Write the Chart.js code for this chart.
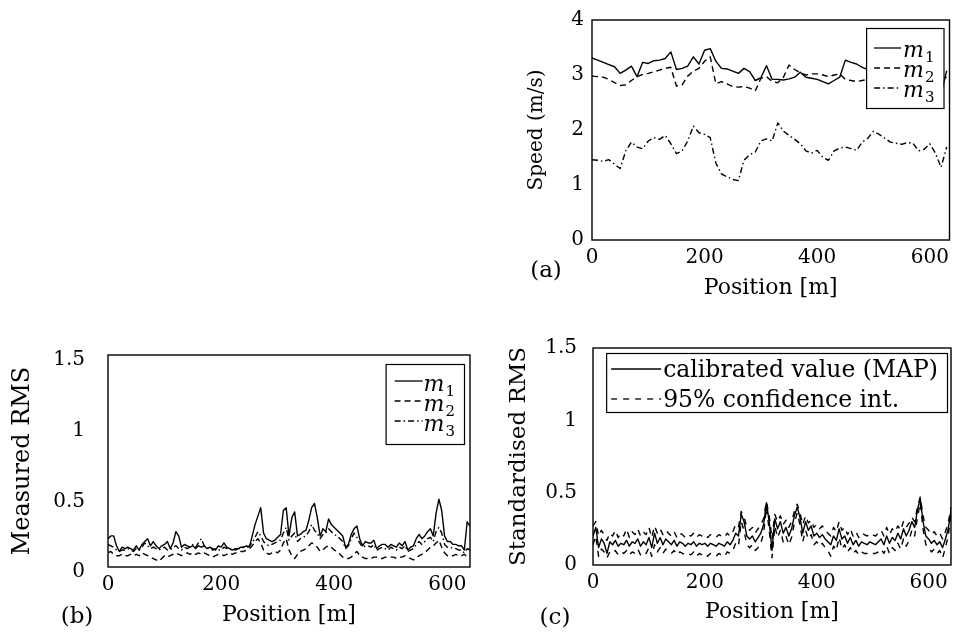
<!DOCTYPE html>
<html>
<head>
<meta charset="utf-8">
<script src="https://cdn.jsdelivr.net/npm/chart.js@4.4.1/dist/chart.umd.min.js"></script>
<style>
  body { margin: 0; background: #fff; }
  canvas { position: absolute; }
</style>
</head>
<body>
<canvas id="chartA" width="475" height="320" style="left:480px;top:0px"></canvas>
<canvas id="chartB" width="480" height="317" style="left:0px;top:320px"></canvas>
<canvas id="chartC" width="475" height="317" style="left:480px;top:320px"></canvas>
<script>
// ---- datos ----
const positionTicks = [0, 200, 400, 600];
const speedTicks = [0, 1, 2, 3, 4];
const rmsTicks = [0, 0.5, 1, 1.5];

// (a) velocidad, cada 10 m
const positionA = [0,10,20,30,40,50,60,70,80,90,100,110,120,130,140,150,160,170,180,190,
  200,210,220,230,240,250,260,270,280,290,300,310,320,330,340,350,360,370,380,390,
  400,410,420,430,440,450,460,470,480,490,500,510,520,530,540,550,560,570,580,590,
  600,610,620,630];
const speedM1 = [3.31,3.27,3.23,3.19,3.15,3.03,3.09,3.16,2.97,3.23,3.21,3.26,3.27,3.30,3.42,3.10,3.12,3.16,3.33,3.20,
  3.45,3.48,3.25,3.12,3.11,3.07,3.03,3.12,3.06,2.90,2.95,3.17,2.92,2.92,2.91,2.93,2.96,3.05,2.96,2.94,
  2.92,2.88,2.84,2.90,2.96,3.27,3.23,3.20,3.14,3.10,3.05,3.08,3.02,3.00,3.05,2.98,3.02,3.06,3.00,2.95,
  3.00,3.04,2.65,3.08];
const speedM2 = [2.98,2.97,2.96,2.92,2.86,2.81,2.82,2.90,2.97,3.01,3.03,3.06,3.09,3.12,3.14,2.80,2.82,2.98,3.07,3.12,
  3.25,3.33,2.84,2.88,2.84,2.79,2.78,2.79,2.76,2.71,2.94,2.97,2.88,2.86,2.96,3.18,3.10,3.04,3.00,3.02,
  3.02,3.00,2.97,3.00,3.02,2.92,2.90,2.88,2.90,2.92,2.95,2.93,2.90,2.94,2.96,2.92,2.90,2.94,2.97,2.93,
  2.90,2.95,2.92,2.96];
const speedM3 = [1.46,1.45,1.43,1.46,1.38,1.30,1.62,1.78,1.69,1.66,1.80,1.86,1.83,1.90,1.75,1.57,1.62,1.80,2.07,1.95,
  1.92,1.86,1.40,1.20,1.15,1.10,1.08,1.45,1.55,1.60,1.80,1.84,1.80,2.13,1.98,1.90,1.83,1.75,1.62,1.58,
  1.63,1.50,1.45,1.62,1.67,1.69,1.66,1.63,1.78,1.85,1.98,1.92,1.85,1.78,1.76,1.74,1.77,1.76,1.62,1.65,
  1.75,1.58,1.32,1.69];

// (b) y (c) RMS, cada 5 m
const positionRms = [0,5,10,15,20,25,30,35,40,45,50,55,60,65,70,75,80,85,90,95,
  100,105,110,115,120,125,130,135,140,145,150,155,160,165,170,175,180,185,190,195,
  200,205,210,215,220,225,230,235,240,245,250,255,260,265,270,275,280,285,290,295,
  300,305,310,315,320,325,330,335,340,345,350,355,360,365,370,375,380,385,390,395,
  400,405,410,415,420,425,430,435,440,445,450,455,460,465,470,475,480,485,490,495,
  500,505,510,515,520,525,530,535,540,545,550,555,560,565,570,575,580,585,590,595,
  600,605,610,615,620,625,630,635,640];
const rmsM1 = [0.20,0.22,0.22,0.15,0.11,0.14,0.13,0.14,0.13,0.12,
  0.15,0.12,0.16,0.18,0.20,0.15,0.18,0.15,0.13,0.15,
  0.16,0.18,0.13,0.17,0.25,0.22,0.14,0.16,0.15,0.14,
  0.15,0.13,0.15,0.14,0.15,0.13,0.14,0.13,0.12,0.15,
  0.14,0.17,0.14,0.13,0.12,0.13,0.13,0.14,0.14,0.15,
  0.14,0.22,0.30,0.36,0.42,0.24,0.20,0.19,0.18,0.19,
  0.21,0.23,0.40,0.42,0.22,0.35,0.39,0.22,0.23,0.25,
  0.26,0.33,0.42,0.45,0.35,0.22,0.27,0.25,0.34,0.30,
  0.28,0.26,0.24,0.22,0.14,0.16,0.23,0.27,0.29,0.20,
  0.15,0.18,0.17,0.17,0.19,0.13,0.15,0.16,0.16,0.14,
  0.16,0.15,0.14,0.17,0.15,0.18,0.12,0.14,0.15,0.20,
  0.23,0.20,0.22,0.25,0.27,0.22,0.38,0.48,0.40,0.22,
  0.18,0.18,0.16,0.16,0.15,0.15,0.12,0.32,0.29];
const rmsM2 = [0.10,0.11,0.09,0.08,0.08,0.09,0.08,0.08,0.09,0.08,
  0.09,0.08,0.10,0.09,0.08,0.07,0.06,0.05,0.04,0.06,
  0.08,0.07,0.08,0.09,0.10,0.09,0.08,0.09,0.10,0.09,
  0.10,0.09,0.10,0.09,0.10,0.09,0.08,0.07,0.08,0.09,
  0.09,0.08,0.09,0.10,0.09,0.10,0.10,0.11,0.11,0.12,
  0.13,0.15,0.18,0.20,0.17,0.12,0.10,0.09,0.10,0.11,
  0.10,0.12,0.17,0.20,0.12,0.08,0.06,0.09,0.11,0.12,
  0.13,0.15,0.17,0.16,0.14,0.11,0.12,0.14,0.15,0.14,
  0.12,0.11,0.09,0.07,0.06,0.06,0.07,0.09,0.11,0.08,
  0.07,0.06,0.06,0.06,0.07,0.07,0.06,0.06,0.07,0.07,
  0.07,0.07,0.06,0.07,0.07,0.08,0.07,0.06,0.05,0.06,
  0.08,0.09,0.10,0.12,0.14,0.15,0.17,0.19,0.14,0.10,
  0.08,0.08,0.08,0.09,0.08,0.08,0.09,0.07,0.08];
const rmsM3 = [0.16,0.15,0.14,0.12,0.11,0.12,0.12,0.13,0.12,0.11,
  0.13,0.12,0.14,0.17,0.15,0.13,0.14,0.13,0.12,0.13,
  0.14,0.12,0.12,0.14,0.15,0.13,0.12,0.14,0.13,0.14,
  0.16,0.14,0.17,0.20,0.15,0.13,0.14,0.12,0.13,0.12,
  0.12,0.14,0.13,0.12,0.13,0.12,0.13,0.13,0.14,0.14,
  0.15,0.17,0.21,0.25,0.22,0.18,0.16,0.15,0.16,0.17,
  0.18,0.19,0.24,0.28,0.19,0.22,0.24,0.18,0.20,0.21,
  0.22,0.25,0.30,0.26,0.24,0.20,0.23,0.24,0.27,0.25,
  0.23,0.22,0.20,0.18,0.13,0.15,0.20,0.24,0.21,0.17,
  0.14,0.15,0.15,0.14,0.16,0.12,0.13,0.14,0.13,0.12,
  0.14,0.13,0.12,0.14,0.13,0.15,0.11,0.12,0.13,0.16,
  0.18,0.16,0.18,0.20,0.21,0.18,0.25,0.28,0.24,0.16,
  0.14,0.14,0.13,0.13,0.12,0.12,0.10,0.13,0.12];
const stdMap = [0.20,0.26,0.12,0.18,0.15,0.08,0.16,0.14,0.17,0.13,
  0.15,0.14,0.17,0.13,0.16,0.15,0.18,0.13,0.16,0.14,
  0.19,0.12,0.22,0.15,0.19,0.14,0.18,0.16,0.14,0.17,
  0.13,0.16,0.15,0.13,0.15,0.14,0.16,0.13,0.15,0.14,
  0.15,0.13,0.15,0.14,0.13,0.15,0.14,0.13,0.16,0.14,
  0.17,0.22,0.20,0.35,0.30,0.20,0.18,0.20,0.16,0.19,
  0.22,0.28,0.43,0.30,0.10,0.32,0.25,0.30,0.22,0.26,
  0.20,0.25,0.34,0.40,0.33,0.22,0.30,0.24,0.27,0.20,
  0.22,0.19,0.21,0.18,0.16,0.14,0.20,0.17,0.25,0.18,
  0.20,0.15,0.19,0.14,0.17,0.13,0.16,0.15,0.14,0.16,
  0.15,0.14,0.16,0.18,0.14,0.20,0.15,0.19,0.17,0.22,
  0.18,0.25,0.20,0.24,0.30,0.26,0.38,0.46,0.30,0.20,
  0.18,0.15,0.17,0.14,0.16,0.12,0.18,0.25,0.38];
const stdUpper = [0.27,0.30,0.20,0.24,0.21,0.17,0.22,0.20,0.24,0.19,
  0.22,0.20,0.25,0.19,0.23,0.21,0.25,0.20,0.23,0.21,
  0.26,0.19,0.27,0.22,0.25,0.21,0.24,0.22,0.20,0.23,
  0.19,0.22,0.21,0.19,0.21,0.20,0.22,0.19,0.21,0.20,
  0.21,0.19,0.21,0.20,0.19,0.21,0.20,0.19,0.22,0.20,
  0.23,0.28,0.26,0.37,0.33,0.26,0.24,0.26,0.22,0.25,
  0.28,0.32,0.44,0.34,0.18,0.35,0.30,0.34,0.28,0.31,
  0.26,0.30,0.37,0.42,0.36,0.28,0.34,0.29,0.31,0.26,
  0.28,0.25,0.27,0.24,0.22,0.20,0.26,0.23,0.30,0.24,
  0.26,0.21,0.25,0.20,0.23,0.19,0.22,0.21,0.20,0.22,
  0.21,0.20,0.22,0.24,0.20,0.26,0.21,0.25,0.23,0.27,
  0.24,0.30,0.26,0.29,0.33,0.30,0.40,0.47,0.34,0.26,
  0.24,0.21,0.23,0.20,0.22,0.18,0.23,0.29,0.40];
const stdLower = [0.14,0.20,0.06,0.11,0.09,0.05,0.09,0.08,0.10,0.07,
  0.09,0.08,0.10,0.07,0.09,0.08,0.11,0.07,0.09,0.08,
  0.12,0.06,0.14,0.09,0.12,0.08,0.11,0.09,0.08,0.10,
  0.07,0.09,0.08,0.07,0.08,0.07,0.09,0.06,0.08,0.07,
  0.08,0.06,0.08,0.07,0.06,0.08,0.07,0.06,0.09,0.08,
  0.10,0.15,0.13,0.30,0.24,0.14,0.12,0.14,0.10,0.12,
  0.15,0.22,0.40,0.24,0.05,0.27,0.19,0.24,0.16,0.20,
  0.14,0.19,0.29,0.36,0.28,0.16,0.24,0.18,0.21,0.14,
  0.16,0.13,0.15,0.12,0.10,0.06,0.13,0.10,0.19,0.11,
  0.14,0.09,0.12,0.08,0.10,0.07,0.09,0.08,0.08,0.09,
  0.08,0.08,0.09,0.11,0.08,0.13,0.08,0.12,0.10,0.15,
  0.11,0.18,0.13,0.17,0.24,0.20,0.33,0.43,0.25,0.14,
  0.12,0.09,0.11,0.08,0.10,0.05,0.12,0.20,0.35];

// ---- estilo ----
const FONT = 'DejaVu Serif';
Chart.defaults.font.family = FONT;
Chart.defaults.color = '#000';

const DASH = [6, 4];
const DASHDOT = [6, 3, 1.5, 3];
const DASH_CI = [6, 6];

function pts(xs, ys) {
  return xs.map((x, i) => ({ x: x, y: ys[i] }));
}

function serie(label, xs, ys, dash) {
  return {
    label: label,
    data: pts(xs, ys),
    borderColor: '#000',
    borderWidth: 1.4,
    borderDash: dash,
    borderJoinStyle: 'round',
    pointRadius: 0,
    tension: 0,
    fill: false
  };
}

// marco del area
const frame = {
  id: 'frame',
  afterDraw(chart) {
    const { ctx, chartArea: ca } = chart;
    ctx.save();
    ctx.strokeStyle = '#000';
    ctx.lineWidth = 1.4;
    ctx.strokeRect(ca.left, ca.top, ca.right - ca.left, ca.bottom - ca.top);
    ctx.restore();
  }
};

// etiqueta (a), (b), (c)
const panelTag = {
  id: 'panelTag',
  afterDraw(chart, args, o) {
    const { ctx, chartArea: ca } = chart;
    ctx.save();
    ctx.font = '23px ' + FONT;
    ctx.fillStyle = '#000';
    ctx.textAlign = 'center';
    ctx.textBaseline = 'middle';
    ctx.fillText(o.text, ca.left + o.dx, ca.bottom + o.dy);
    ctx.restore();
  }
};

// leyenda con recuadro y subindices
function setMain(ctx, text, o) {
  ctx.font = (text.indexOf('_') >= 0 ? 'italic ' : '') + o.size + 'px ' + FONT;
}
function labelWidth(ctx, text, o) {
  const parts = text.split('_');
  setMain(ctx, text, o);
  let w = ctx.measureText(parts[0]).width;
  if (parts.length > 1) {
    ctx.font = Math.round(o.size * 0.68) + 'px ' + FONT;
    w += ctx.measureText(parts[1]).width;
  }
  return w;
}
function drawLabel(ctx, text, x, y, o) {
  const parts = text.split('_');
  setMain(ctx, text, o);
  ctx.fillText(parts[0], x, y);
  if (parts.length > 1) {
    const w = ctx.measureText(parts[0]).width;
    ctx.font = Math.round(o.size * 0.68) + 'px ' + FONT;
    ctx.fillText(parts[1], x + w + 1, y + o.size * 0.22);
  }
}

const boxLegend = {
  id: 'boxLegend',
  afterDatasetsDraw(chart, args, o) {
    const { ctx, chartArea: ca } = chart;
    const items = [];
    chart.data.datasets.forEach(ds => {
      if (!items.find(it => it.label === ds.label)) items.push(ds);
    });
    ctx.save();
    let tw = 0;
    items.forEach(ds => { tw = Math.max(tw, labelWidth(ctx, ds.label, o)); });
    const bw = o.textX + tw + o.padRight;
    const right = ca.right - o.right;
    const top = ca.top + o.top;
    const left = right - bw;
    ctx.fillStyle = '#fff';
    ctx.fillRect(left, top, bw, o.height);
    ctx.strokeStyle = '#000';
    ctx.lineWidth = 1.2;
    ctx.strokeRect(left + 0.5, top + 0.5, bw, o.height);
    ctx.fillStyle = '#000';
    ctx.textBaseline = 'alphabetic';
    ctx.textAlign = 'left';
    items.forEach((ds, i) => {
      const base = top + o.first + i * o.rowH;
      ctx.setLineDash(ds.borderDash || []);
      ctx.lineWidth = 1.3;
      ctx.beginPath();
      ctx.moveTo(left + o.sampleX, base - o.lineUp);
      ctx.lineTo(left + o.sampleX + o.sampleLen, base - o.lineUp);
      ctx.stroke();
      ctx.setLineDash([]);
      drawLabel(ctx, ds.label, left + o.textX, base, o);
    });
    ctx.restore();
  }
};

function axes(o) {
  return {
    x: {
      type: 'linear', min: 0, max: o.xMax,
      afterFit: s => { s.height = o.xH; },
      afterBuildTicks: s => { s.ticks = positionTicks.map(v => ({ value: v })); },
      grid: { display: false, drawTicks: false },
      border: { display: false },
      ticks: { padding: 6, font: { size: 20 }, maxRotation: 0 },
      title: { display: true, text: 'Position [m]', font: { size: 22 }, padding: { top: 0, bottom: o.xTitlePad } }
    },
    y: {
      type: 'linear', min: 0, max: o.yMax,
      afterFit: s => { s.width = o.yW; },
      afterBuildTicks: s => { s.ticks = o.yTicks.map(v => ({ value: v })); },
      grid: { display: false, drawTicks: false },
      border: { display: false },
      ticks: { padding: o.yTickPad, labelOffset: o.yLabelOffset || 0, font: { size: 20 }, callback: v => String(v) },
      title: { display: true, text: o.yTitle, font: { size: o.yTitleSize }, padding: { top: o.yTitlePad, bottom: 0 } }
    }
  };
}

function makeChart(id, datasets, pad, ax, legend, tag) {
  return new Chart(document.getElementById(id), {
    type: 'line',
    data: { datasets: datasets },
    options: {
      responsive: false,
      animation: false,
      layout: { padding: pad },
      scales: axes(ax),
      plugins: {
        legend: { display: false },
        tooltip: { enabled: false },
        boxLegend: legend,
        panelTag: tag
      }
    },
    plugins: [boxLegend, frame, panelTag]
  });
}

// (a)
makeChart('chartA', [
  serie('m_1', positionA, speedM1, []),
  serie('m_2', positionA, speedM2, DASH),
  serie('m_3', positionA, speedM3, DASHDOT)
], { left: 0, right: 2, top: 11, bottom: 0 },
{ xMax: 635, xH: 80, xTitlePad: 19, yMax: 4, yTicks: speedTicks, yW: 112, yTickPad: 8,
  yTitle: 'Speed (m/s)', yTitleSize: 20, yTitlePad: 45 },
{ size: 22, right: 6, top: 8, height: 80, first: 29, rowH: 20, sampleX: 8, sampleLen: 27, lineUp: 9, textX: 37, padRight: 10 },
{ text: '(a)', dx: -46, dy: 31 });

// (b)
makeChart('chartB', [
  serie('m_1', positionRms, rmsM1, []),
  serie('m_2', positionRms, rmsM2, DASH),
  serie('m_3', positionRms, rmsM3, DASHDOT)
], { left: 0, right: 10, top: 17, bottom: 0 },
{ xMax: 640, xH: 70, xTitlePad: 9, yMax: 1.5, yTicks: rmsTicks, yW: 108, yTickPad: 23, yLabelOffset: 5,
  yTitle: 'Measured RMS', yTitleSize: 24, yTitlePad: 8 },
{ size: 22, right: 6, top: 9, height: 80, first: 27, rowH: 20, sampleX: 9, sampleLen: 28, lineUp: 10, textX: 38, padRight: 10 },
{ text: '(b)', dx: -31, dy: 50 });

// (c)
makeChart('chartC', [
  serie('calibrated value (MAP)', positionRms, stdMap, []),
  serie('95% confidence int.', positionRms, stdUpper, DASH_CI),
  serie('95% confidence int.', positionRms, stdLower, DASH_CI)
], { left: 0, right: 4, top: 14, bottom: 0 },
{ xMax: 640, xH: 72, xTitlePad: 12, yMax: 1.5, yTicks: rmsTicks, yW: 113, yTickPad: 16,
  yTitle: 'Standardised RMS', yTitleSize: 23, yTitlePad: 25 },
{ size: 23.5, right: 4, top: 5, height: 59, first: 24, rowH: 30, sampleX: 5, sampleLen: 50, lineUp: 8, textX: 57, padRight: 9 },
{ text: '(c)', dx: -38, dy: 53 });
</script>
</body>
</html>
